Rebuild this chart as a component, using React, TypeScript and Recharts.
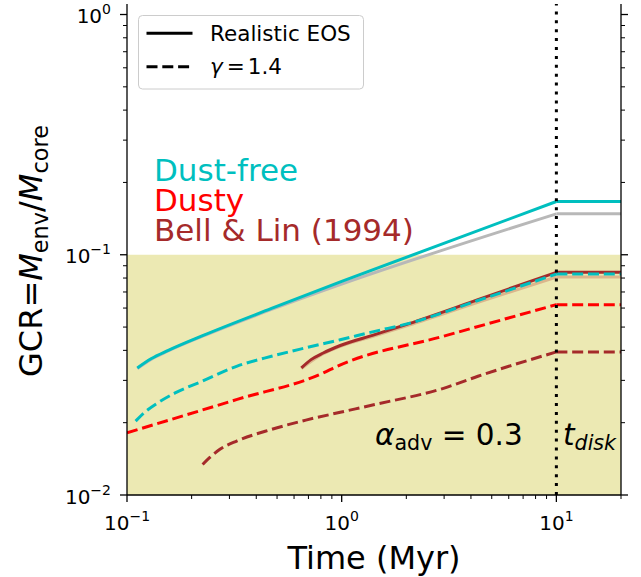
import React from "react";
import { LineChart, Line, XAxis, YAxis, ReferenceArea, ReferenceLine } from "recharts";

const FONT = "'DejaVu Sans', sans-serif";

// time (Myr) / GCR
const dustFreeRealT = [0.1117, 0.1294, 0.1557, 0.225, 0.471, 1, 10, 20];
const dustFreeRealG = [0.0338, 0.0369, 0.04, 0.04605, 0.0598, 0.0775, 0.1666, 0.1666];

const grayRealT = [0.1117, 0.1294, 0.1557, 0.225, 0.471, 1, 10, 20];
const grayRealG = [0.0336, 0.0367, 0.0398, 0.0458, 0.0592, 0.0755, 0.148, 0.148];

const bellRealT = [0.649, 0.72, 0.82, 0.985, 1.425, 2.06, 4.31, 10, 20];
const bellRealG = [0.0338, 0.0366, 0.039, 0.0419, 0.0465, 0.0517, 0.065, 0.0845, 0.0845];

const tanRealT = [0.649, 0.82, 0.985, 1.425, 2.06, 4.31, 10, 20];
const tanRealG = [0.0336, 0.0387, 0.0416, 0.046, 0.051, 0.0634, 0.0808, 0.0808];

const dustFreeGammaT = [0.1097, 0.1202, 0.1394, 0.1676, 0.225, 0.326, 0.471, 0.681, 0.985, 1.425, 2.06, 4.31, 10, 20];
const dustFreeGammaG = [0.0203, 0.022, 0.0242, 0.0266, 0.0298, 0.0344, 0.0378, 0.041, 0.0443, 0.048, 0.0518, 0.0645, 0.0831, 0.0831];

const dustyGammaT = [0.1, 0.326, 0.82, 0.95, 2.98, 10, 20];
const dustyGammaG = [0.01815, 0.025, 0.0322, 0.0343, 0.0458, 0.062, 0.062];

const bellGammaT = [0.225, 0.2424, 0.2709, 0.326, 0.471, 0.681, 0.985, 1.425, 2.98, 4.31, 10, 20];
const bellGammaG = [0.0134, 0.0143, 0.0155, 0.0168, 0.01875, 0.0205, 0.0221, 0.0238, 0.0278, 0.0312, 0.0394, 0.0394];

const T_DISK = 10;

const xMajor = [0.1, 1, 10];
const xExp = ["\u22121", "0", "1"];
const xMinor = [0.2, 0.3, 0.4, 0.5, 0.6, 0.7, 0.8, 0.9, 2, 3, 4, 5, 6, 7, 8, 9, 20];
const yMajor = [0.01, 0.1, 1];
const yExp = ["\u22122", "\u22121", "0"];
const yMinor = [0.02, 0.03, 0.04, 0.05, 0.06, 0.07, 0.08, 0.09, 0.2, 0.3, 0.4, 0.5, 0.6, 0.7, 0.8, 0.9];

const CYAN = "#00bfbf";
const RED = "#ff0000";
const BROWN = "#a52a2a";
const DASH = "11 4.8";
const LW = 3;

const zip = (t: number[], g: number[]) => t.map((x, i) => ({ x, y: g[i] }));

const XTick = (props: any) => {
  const { x, y, payload } = props;
  const i = xMajor.indexOf(payload.value);
  const major = i >= 0;
  return (
    <g>
      <line x1={x} x2={x} y1={y} y2={y + (major ? 7 : 4)} stroke="#000" strokeWidth={major ? 1.3 : 1} />
      {major && (
        <text x={x} y={y + 35} textAnchor="middle" fontFamily={FONT} fontSize={20} fill="#000">
          10<tspan dy={-9} fontSize={14}>{xExp[i]}</tspan>
        </text>
      )}
    </g>
  );
};

const YTick = (props: any) => {
  const { x, y, payload } = props;
  const i = yMajor.indexOf(payload.value);
  const major = i >= 0;
  return (
    <g>
      <line x1={x} x2={x - (major ? 7 : 4)} y1={y} y2={y} stroke="#000" strokeWidth={major ? 1.3 : 1} />
      {major && (
        <text x={x - 16} y={y + 8.5} textAnchor="end" fontFamily={FONT} fontSize={20} fill="#000">
          10<tspan dy={-9} fontSize={14}>{yExp[i]}</tspan>
        </text>
      )}
    </g>
  );
};

const YTickRight = (props: any) => {
  const { x, y, payload } = props;
  const major = yMajor.includes(payload.value);
  return <line x1={x} x2={x + (major ? 7 : 4)} y1={y} y2={y} stroke="#000" strokeWidth={major ? 1.3 : 1} />;
};

// growth part is drawn smooth, the plateau after t_disk straight
const seriesLines = (t: number[], g: number[], color: string, dashed: boolean, key: string) => {
  const pts = zip(t, g);
  const common = {
    dataKey: "y",
    stroke: color,
    strokeWidth: LW,
    strokeDasharray: dashed ? DASH : undefined,
    dot: false,
    isAnimationActive: false,
  };
  return [
    <Line key={key + "-grow"} {...common} type="monotone" data={pts.filter((p) => p.x <= T_DISK)} />,
    <Line key={key + "-flat"} {...common} type="linear" data={pts.filter((p) => p.x >= T_DISK)} />,
  ];
};

const App = () => {
  const xTicks = [...xMajor, ...xMinor].sort((a, b) => a - b);
  const yTicks = [...yMajor, ...yMinor].sort((a, b) => a - b);
  const axisLine = { stroke: "#000", strokeWidth: 1.3 };

  return (
    <div style={{ position: "absolute", left: 0, top: 0, width: 641, height: 577, background: "#fff" }}>
      <LineChart width={641} height={577} margin={{ top: 4, right: 0, bottom: 0, left: 0 }}>
        <ReferenceArea y1={0.01} y2={0.1} fill="#ece9b3" fillOpacity={1} stroke="none" ifOverflow="hidden" />
        <XAxis
          dataKey="x"
          type="number"
          scale="log"
          domain={[0.1, 20]}
          allowDataOverflow
          ticks={xTicks}
          interval={0}
          tickSize={0}
          tickMargin={0}
          tickLine={false}
          tick={<XTick />}
          axisLine={axisLine}
          height={82}
        />
        <XAxis
          xAxisId="top"
          orientation="top"
          type="number"
          scale="log"
          domain={[0.1, 20]}
          allowDataOverflow
          height={0}
          tick={false}
          tickLine={false}
          axisLine={axisLine}
        />
        <YAxis
          type="number"
          scale="log"
          domain={[0.01, 1.106]}
          allowDataOverflow
          ticks={yTicks}
          interval={0}
          tickSize={0}
          tickMargin={0}
          tickLine={false}
          tick={<YTick />}
          axisLine={axisLine}
          width={127}
        />
        <YAxis
          yAxisId="right"
          orientation="right"
          type="number"
          scale="log"
          domain={[0.01, 1.106]}
          allowDataOverflow
          ticks={yTicks}
          interval={0}
          tickSize={0}
          tickMargin={0}
          tickLine={false}
          tick={<YTickRight />}
          axisLine={axisLine}
          width={20}
        />
        {seriesLines(grayRealT, grayRealG, "#b8b8b8", false, "gray")}
        {seriesLines(dustFreeRealT, dustFreeRealG, CYAN, false, "dfReal")}
        {seriesLines(tanRealT, tanRealG, "#dbb68c", false, "tan")}
        {seriesLines(bellRealT, bellRealG, BROWN, false, "blReal")}
        {seriesLines(dustFreeGammaT, dustFreeGammaG, CYAN, true, "dfGamma")}
        {seriesLines(dustyGammaT, dustyGammaG, RED, true, "dyGamma")}
        {seriesLines(bellGammaT, bellGammaG, BROWN, true, "blGamma")}
        <ReferenceLine x={T_DISK} stroke="#000" strokeWidth={3} strokeDasharray="3 5.9" />
      </LineChart>

      <svg width={641} height={577} style={{ position: "absolute", left: 0, top: 0, pointerEvents: "none" }} fontFamily={FONT}>
        {/* legend */}
        <rect x={138.5} y={15.5} width={225} height={73.5} rx={4} fill="#fff" fillOpacity={0.8} stroke="#cccccc" strokeWidth={1} />
        <line x1={146.5} x2={192.5} y1={33.3} y2={33.3} stroke="#000" strokeWidth={LW} />
        <line x1={146.5} x2={192.5} y1={66.7} y2={66.7} stroke="#000" strokeWidth={LW} strokeDasharray={DASH} />
        <text x={210} y={40.7} fontSize={21.5} fill="#000">Realistic EOS</text>
        <text x={210} y={74} fontSize={21.5} fill="#000">
          <tspan fontStyle="italic">γ</tspan>
          <tspan dx={4}>=</tspan>
          <tspan dx={3}>1.4</tspan>
        </text>

        {/* series labels */}
        <text x={154} y={181} fontSize={31} fill={CYAN}>Dust-free</text>
        <text x={154} y={210.5} fontSize={31} fill={RED}>Dusty</text>
        <text x={154} y={240.5} fontSize={31} fill={BROWN}>Bell &amp; Lin (1994)</text>

        <text x={375} y={445} fontSize={29.5} fill="#000">
          <tspan fontStyle="italic">α</tspan>
          <tspan fontSize={20.6} dy={5}>adv</tspan>
          <tspan dy={-5}> = 0.3</tspan>
        </text>
        <text x={563} y={445} fontSize={29.5} fill="#000">
          <tspan fontStyle="italic">t</tspan>
          <tspan fontStyle="italic" fontSize={20.6} dy={5}>disk</tspan>
        </text>

        {/* axis titles */}
        <text x={374} y={569} textAnchor="middle" fontSize={32} fill="#000">Time (Myr)</text>
        <text transform="translate(42,251) rotate(-90)" textAnchor="middle" fontSize={32} fill="#000">
          GCR=<tspan fontStyle="italic">M</tspan>
          <tspan fontSize={22.4} dy={6}>env</tspan>
          <tspan dy={-6}>/</tspan>
          <tspan fontStyle="italic">M</tspan>
          <tspan fontSize={22.4} dy={6}>core</tspan>
        </text>
      </svg>
    </div>
  );
};

export default App;
